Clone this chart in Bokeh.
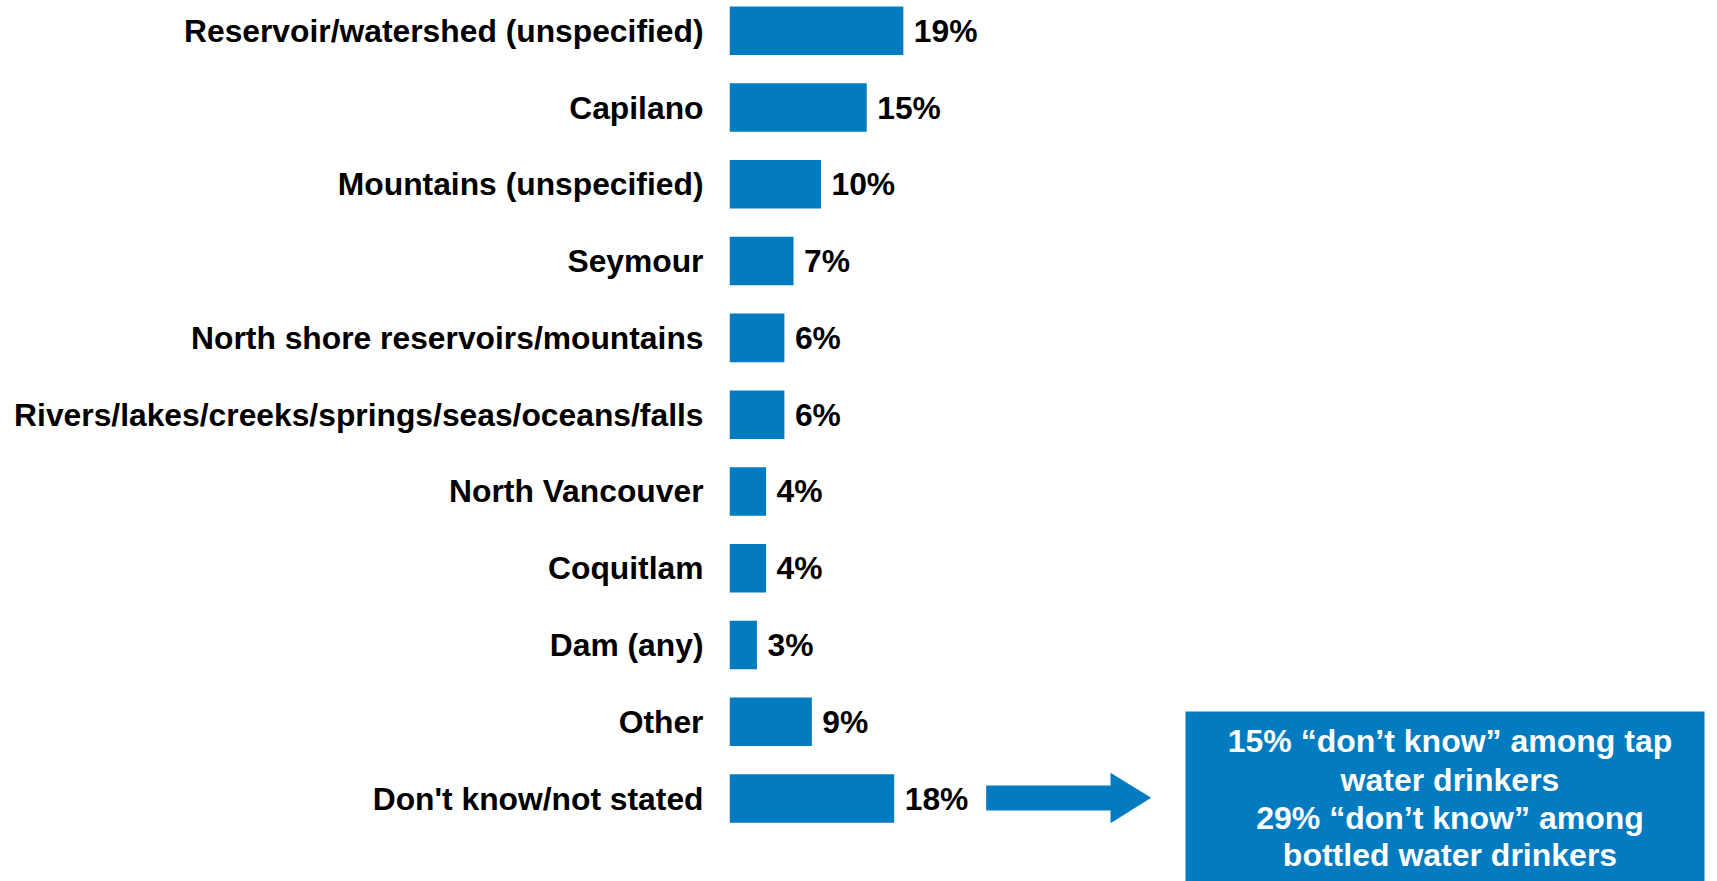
from bokeh.plotting import figure
from bokeh.models import Range1d, FixedTicker, BoxAnnotation
from bokeh.core.properties import value
from bokeh.embed import file_html
from bokeh.resources import INLINE

categories = [
    "Reservoir/watershed (unspecified)",
    "Capilano",
    "Mountains (unspecified)",
    "Seymour",
    "North shore reservoirs/mountains",
    "Rivers/lakes/creeks/springs/seas/oceans/falls",
    "North Vancouver",
    "Coquitlam",
    "Dam (any)",
    "Other",
    "Don't know/not stated",
]
values = [19, 15, 10, 7, 6, 6, 4, 4, 3, 9, 18]
value_labels = [f"{v}%" for v in values]
note_lines = [
    "15% \u201cdon\u2019t know\u201d among tap",
    "water drinkers",
    "29% \u201cdon\u2019t know\u201d among",
    "bottled water drinkers",
]

BLUE = "#027BC1"
FONT = "Liberation Sans"

# layout geometry (pixels)
W, H = 1717, 881
left_border = 729
px_per_pct = 9.15
row_px = 76.77
first_row_offset = 30.3  # from frame top to centre of first row

frame_w = W - left_border
x_end = frame_w / px_per_pct
y_top = -first_row_offset / row_px
y_bottom = (H - first_row_offset) / row_px

idx = list(range(len(categories)))

p = figure(width=W, height=H, output_backend="svg", toolbar_location=None,
           x_range=Range1d(0, x_end), y_range=Range1d(y_bottom, y_top),
           x_axis_location=None, min_border_left=left_border,
           min_border_right=0, min_border_top=0, min_border_bottom=0)
p.outline_line_color = None
p.xgrid.visible = False
p.ygrid.visible = False

p.hbar(y=idx, left=0, right=values, height=0.632, color=BLUE, line_color=None)

p.text(x=values, y=idx, text=value_labels, x_offset=10.5,
       text_baseline="middle", text_align="left",
       text_font=value(FONT), text_font_style="bold",
       text_font_size="31.8px", text_color="black")

ax = p.yaxis[0]
ax.ticker = FixedTicker(ticks=idx)
ax.major_label_overrides = {i: c for i, c in zip(idx, categories)}
ax.axis_line_color = None
ax.major_tick_line_color = None
ax.minor_tick_line_color = None
ax.major_tick_out = 0
ax.major_tick_in = 0
ax.major_label_standoff = 26
ax.major_label_text_font = FONT
ax.major_label_text_font_style = "bold"
ax.major_label_text_font_size = "31.8px"
ax.major_label_text_color = "black"

# helpers to place callout geometry in data units from reference pixels
def dx(sx):
    return (sx - left_border) / px_per_pct

def dy(sy):
    return (sy - first_row_offset) / row_px

# block arrow
ax_pts = [985.7, 1110, 1110, 1150.7, 1110, 1110, 985.7]
ay_pts = [785, 785, 772.3, 797.3, 822.7, 810, 810]
p.patch([dx(v) for v in ax_pts], [dy(v) for v in ay_pts],
        fill_color=BLUE, line_color=None)

# callout box (drawn beneath the text)
box = BoxAnnotation(left=dx(1185), right=dx(1704), top=dy(711), bottom=None,
                    fill_color=BLUE, fill_alpha=1.0, line_color=None,
                    level="underlay")
p.add_layout(box)

line_centres = [740.2, 779.2, 817.0, 854.5]
p.text(x=[dx(1449.5)] * 4, y=[dy(c) for c in line_centres], text=note_lines,
       text_align="center", text_baseline="middle",
       text_font=value(FONT), text_font_style="bold",
       text_font_size="32px", text_color="white")

open("out.html", "w").write(file_html(p, INLINE))
